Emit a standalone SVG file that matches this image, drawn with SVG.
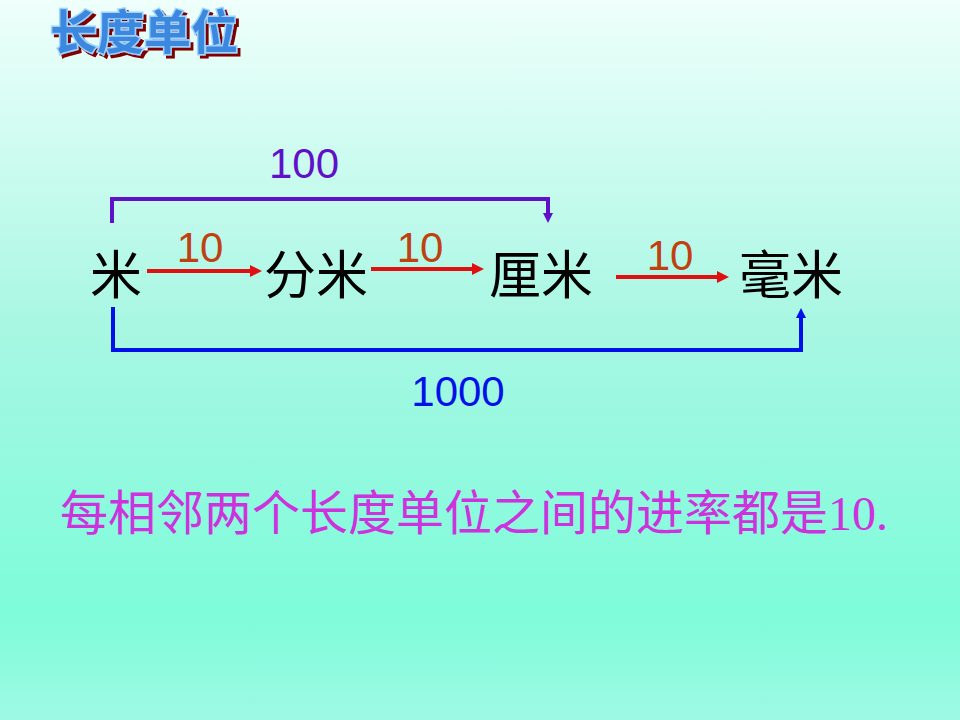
<svg xmlns="http://www.w3.org/2000/svg" width="960" height="720" viewBox="0 0 960 720">
  <defs>
    <linearGradient id="bg" x1="0" y1="0" x2="0" y2="1">
      <stop offset="0" stop-color="#effffb"/>
      <stop offset="0.45" stop-color="#a8f7e3"/>
      <stop offset="0.85" stop-color="#7efcda"/>
      <stop offset="1" stop-color="#9ef9e3"/>
    </linearGradient>
    <filter id="shadow" x="-10%" y="-20%" width="130%" height="150%">
      <feFlood flood-color="#800000"/>
      <feComposite in2="SourceAlpha" operator="in"/>
      <feOffset dx="3" dy="3" result="sh"/>
      <feMerge>
        <feMergeNode in="sh"/>
        <feMergeNode in="SourceGraphic"/>
      </feMerge>
    </filter>
    <marker id="ahRed" viewBox="0 0 12 12" refX="0" refY="6" markerWidth="12" markerHeight="12" markerUnits="userSpaceOnUse" orient="auto">
      <path d="M0,0 L12,6 L0,12 z" fill="#e01010"/>
    </marker>
    <marker id="ahPurple" viewBox="0 0 10 10" refX="0" refY="5" markerWidth="10" markerHeight="10" markerUnits="userSpaceOnUse" orient="auto">
      <path d="M0,0 L10,5 L0,10 z" fill="#6010c8"/>
    </marker>
    <marker id="ahBlue" viewBox="0 0 10 10" refX="0" refY="5" markerWidth="10" markerHeight="10" markerUnits="userSpaceOnUse" orient="auto">
      <path d="M0,0 L10,5 L0,10 z" fill="#0010e8"/>
    </marker>
  </defs>
  <style>
    .unit { font-family: "Liberation Sans", "Noto Sans CJK SC", sans-serif; font-size: 52px; fill: #000; }
    .ten { font-family: "Liberation Sans", "Noto Sans CJK SC", sans-serif; font-size: 42px; fill: #c04010; text-anchor: middle; }
    .num { font-family: "Liberation Sans", sans-serif; font-size: 42px; text-anchor: middle; }
    .red { fill: none; stroke: #e01010; stroke-width: 4; }
    .title { font-family: "Noto Sans CJK SC", sans-serif; font-size: 47px; font-weight: bold; fill: #3a88de; stroke: #9fd2ff; stroke-width: 3; paint-order: stroke; }
    .note { font-family: "Liberation Serif", "Noto Sans CJK SC", serif; font-size: 48px; fill: #cc33dd; }
  </style>
  <rect x="0" y="0" width="960" height="720" fill="url(#bg)"/>

  <g id="title">
    <text class="title" x="50" y="49" filter="url(#shadow)">长度单位</text>
  </g>

  <g id="connectors">
    <path class="red" d="M147,271 H250" marker-end="url(#ahRed)"/>
    <path class="red" d="M371,269 H472" marker-end="url(#ahRed)"/>
    <path class="red" d="M616,277 H717" marker-end="url(#ahRed)"/>
    <path d="M112,223 V199 H548 V213" fill="none" stroke="#6010c8" stroke-width="4" marker-end="url(#ahPurple)"/>
    <path d="M113,307 V350 H801 V318" fill="none" stroke="#0010e8" stroke-width="4" marker-end="url(#ahBlue)"/>
  </g>

  <g id="labels">
    <text class="ten" x="200" y="262">10</text>
    <text class="ten" x="420" y="262">10</text>
    <text class="ten" x="670" y="270">10</text>
    <text class="num" x="304" y="178" fill="#6010c8">100</text>
    <text class="num" x="458" y="406" fill="#0010e8">1000</text>
  </g>

  <g id="node-mi"><text class="unit" x="90" y="294">米</text></g>
  <g id="node-fenmi"><text class="unit" x="264" y="294">分米</text></g>
  <g id="node-limi"><text class="unit" x="489" y="294">厘米</text></g>
  <g id="node-haomi"><text class="unit" x="739" y="294">毫米</text></g>

  <g id="note">
    <text class="note" x="60" y="530">每相邻两个长度单位之间的进率都是10.</text>
  </g>
</svg>
